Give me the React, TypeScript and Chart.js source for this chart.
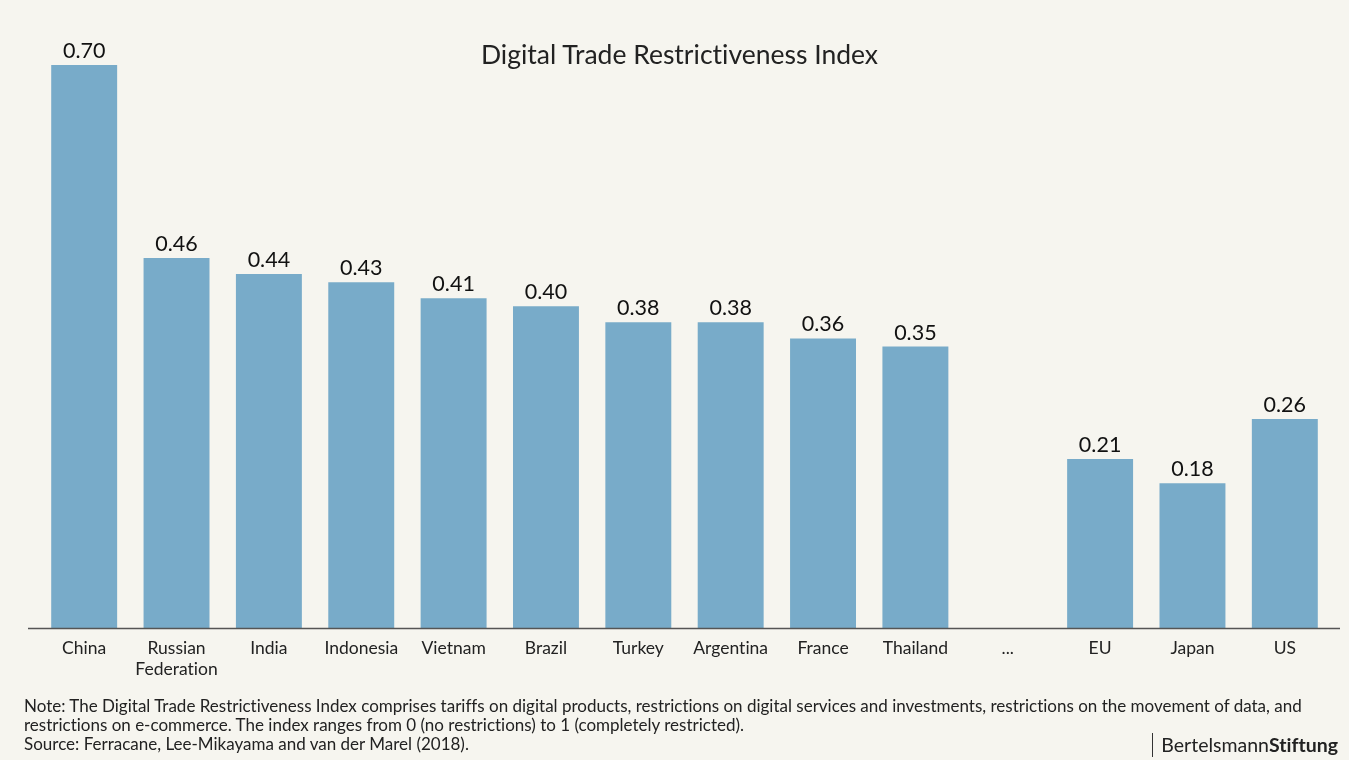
import React, { useEffect, useRef } from "react";
import { Chart, registerables } from "chart.js";

Chart.register(...registerables);

const categories: (string | string[])[] = [
  "China",
  ["Russian", "Federation"],
  "India",
  "Indonesia",
  "Vietnam",
  "Brazil",
  "Turkey",
  "Argentina",
  "France",
  "Thailand",
  "...",
  "EU",
  "Japan",
  "US",
];
const indexValues: (number | null)[] = [0.7, 0.46, 0.44, 0.43, 0.41, 0.4, 0.38, 0.38, 0.36, 0.35, null, 0.21, 0.18, 0.26];

const titleText = "Digital Trade Restrictiveness Index";
const noteLines = [
  "Note: The Digital Trade Restrictiveness Index comprises tariffs on digital products, restrictions on digital services and investments, restrictions on the movement of data, and",
  "restrictions on e-commerce. The index ranges from 0 (no restrictions) to 1 (completely restricted).",
  "Source: Ferracane, Lee-Mikayama and van der Marel (2018).",
];

const BG = "#f6f5ef";
const BAR = "#78abc9";
const FONT = "Lato, 'Open Sans', sans-serif";

export default function App() {
  const canvasRef = useRef<HTMLCanvasElement | null>(null);

  useEffect(() => {
    document.body.style.margin = "0";
    document.body.style.background = BG;
    document.body.style.overflow = "hidden";
    const canvas = canvasRef.current;
    if (!canvas) return;

    const valueLabels = {
      id: "valueLabels",
      afterDatasetsDraw(chart: any) {
        const ctx = chart.ctx;
        const meta = chart.getDatasetMeta(0);
        ctx.save();
        ctx.font = `21.5px ${FONT}`;
        ctx.fillStyle = "#111";
        ctx.textAlign = "center";
        ctx.textBaseline = "alphabetic";
        meta.data.forEach((bar: any, i: number) => {
          const v = indexValues[i];
          if (v == null) return;
          ctx.fillText(v.toFixed(2), bar.x, bar.y - 7);
        });
        ctx.restore();
      },
    };

    const baseline = {
      id: "baseline",
      afterDatasetsDraw(chart: any) {
        const ctx = chart.ctx;
        const y = chart.chartArea.bottom + 0.5;
        ctx.save();
        ctx.strokeStyle = "#555";
        ctx.lineWidth = 1.5;
        ctx.beginPath();
        ctx.moveTo(28, y);
        ctx.lineTo(1340, y);
        ctx.stroke();
        ctx.restore();
      },
    };

    const chart = new Chart(canvas, {
      type: "bar",
      data: {
        labels: categories as any,
        datasets: [
          {
            data: indexValues as any,
            backgroundColor: BAR,
            borderWidth: 0,
            barPercentage: 0.714,
            categoryPercentage: 1,
          },
        ],
      },
      options: {
        animation: false,
        responsive: false,
        maintainAspectRatio: false,
        layout: { padding: { left: 38, right: 18, top: 65, bottom: 0 } },
        plugins: {
          legend: { display: false },
          tooltip: { enabled: false },
          title: { display: false },
        },
        scales: {
          x: {
            grid: { display: false, drawTicks: false },
            border: { display: false },
            ticks: {
              color: "#222",
              font: { family: FONT, size: 17.5, lineHeight: 1.2 },
              padding: 10,
              maxRotation: 0,
              autoSkip: false,
            },
            afterFit(scale: any) {
              scale.height = 132;
            },
          },
          y: {
            display: false,
            min: 0,
            max: 0.7,
          },
        },
      },
      plugins: [valueLabels, baseline],
    });

    return () => chart.destroy();
  }, []);

  return (
    <div
      style={{
        position: "relative",
        width: 1349,
        height: 760,
        background: BG,
        overflow: "hidden",
        fontFamily: FONT,
        fontVariantLigatures: "none",
      }}
    >
      <canvas ref={canvasRef} width={1349} height={760} style={{ position: "absolute", left: 0, top: 0 }} />
      <div
        style={{
          position: "absolute",
          left: 0,
          width: 1359,
          top: 37,
          textAlign: "center",
          fontSize: 26.5,
          color: "#222",
          lineHeight: "34px",
        }}
      >
        {titleText}
      </div>
      <div style={{ position: "absolute", left: 24, top: 696, fontSize: 17, lineHeight: "19px", color: "#222" }}>
        {noteLines.map((l, i) => (
          <div key={i} style={{ whiteSpace: "nowrap" }}>{l}</div>
        ))}
      </div>
      <div
        style={{
          position: "absolute",
          right: 11,
          top: 733,
          fontSize: 19.5,
          lineHeight: "24px",
          color: "#222",
          borderLeft: "1.5px solid #333",
          paddingLeft: 8,
        }}
      >
        Bertelsmann<b>Stiftung</b>
      </div>
    </div>
  );
}
